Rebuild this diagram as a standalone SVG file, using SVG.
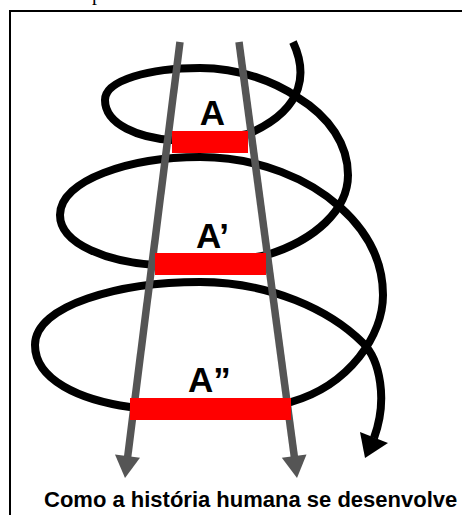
<svg xmlns="http://www.w3.org/2000/svg" width="462" height="515" viewBox="0 0 462 515">
  <style>
    .spiral { fill: none; stroke: #000; stroke-width: 8; stroke-linecap: butt; stroke-linejoin: round; }
    .axis { fill: none; stroke: #555; stroke-width: 7.5; }
    .axishead { fill: #555; }
    .bar { fill: #ff0000; }
    .lbl { font-family: "Liberation Sans", Arial, sans-serif; font-weight: bold; font-size: 35px; fill: #000; }
    .caption { font-family: "Liberation Sans", Arial, sans-serif; font-weight: bold; font-size: 22px; fill: #000; }
  </style>
  <rect x="0" y="0" width="462" height="515" fill="#fff"/>
  <text x="92" y="0" font-family="'Liberation Serif', 'Times New Roman', serif" font-size="20" fill="#000">p</text>
  <rect x="10" y="11" width="460" height="520" fill="none" stroke="#000" stroke-width="2"/>

  <g id="connectors">
    <path id="spiral" class="spiral" d="M293,42 C306,70 308,108 248,134 Q210,142 172,140 C140,138 105,125 105,100 C105,80 150,68 200,68 C240,68 275,82 297,97 C330,117 348,145 348,175 C348,210 315,240 267,255 Q210,266 155,265 C110,262 60,245 60,215 C60,180 130,157 200,157 C260,157 310,180 340,207 C368,232 383,260 383,295 C383,335 350,385 291,402 Q210,410 130,407 C80,400 35,380 35,345 C35,305 120,282 200,282 C270,282 330,310 363,343 C380,360 388,400 374,438"/>
    <polygon id="spiral-head" points="365,458 360,432 388,443" fill="#000"/>
    <line id="axis-left" class="axis" x1="180" y1="42" x2="127.5" y2="458"/>
    <polygon class="axishead" points="125,478 140,457.8 115,454.6"/>
    <line id="axis-right" class="axis" x1="239" y1="42" x2="294.5" y2="458"/>
    <polygon class="axishead" points="297,478 306.5,454.6 281.8,457.8"/>
  </g>

  <g id="node-A">
    <rect class="bar" x="172" y="131" width="76" height="22"/>
    <text class="lbl" x="212.5" y="125" text-anchor="middle">A</text>
  </g>
  <g id="node-A1">
    <rect class="bar" x="155" y="253" width="111" height="22"/>
    <text class="lbl" x="196" y="248">A’</text>
  </g>
  <g id="node-A2">
    <rect class="bar" x="130" y="398" width="161" height="22"/>
    <text class="lbl" x="188" y="392">A”</text>
  </g>
  <g id="caption">
    <text class="caption" x="44" y="507">Como a história humana se desenvolve</text>
  </g>
</svg>
